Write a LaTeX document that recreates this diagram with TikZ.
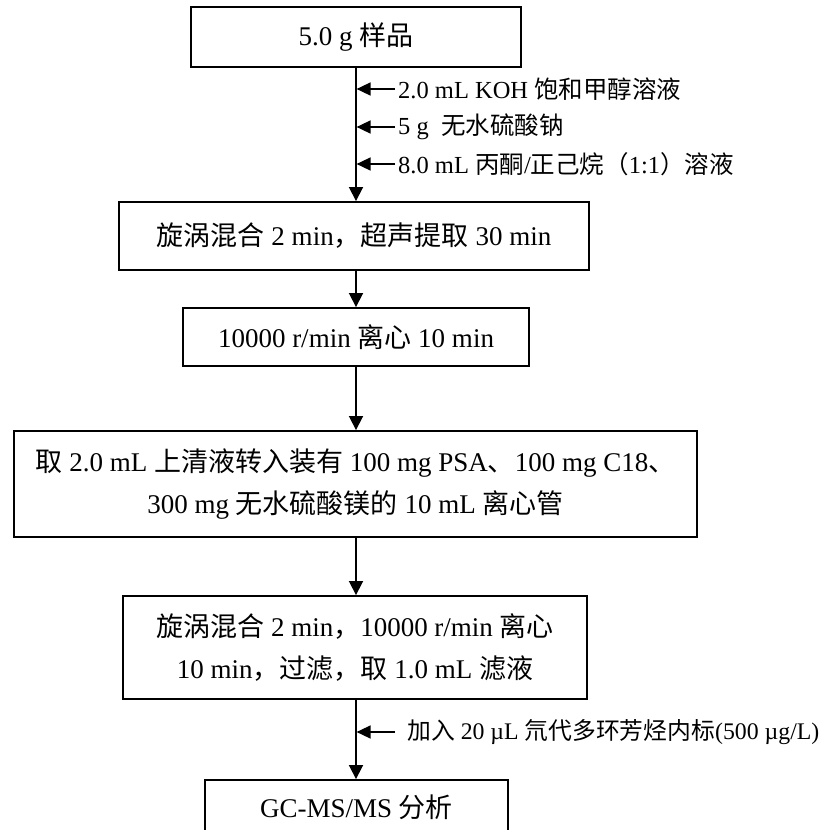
\documentclass[tikz,border=0pt]{standalone}
\usepackage{fontspec}
\setmainfont{Liberation Serif}
\newfontfamily\cjk{Noto Sans CJK SC}
\newcommand{\C}[1]{{\cjk #1}}
\usetikzlibrary{arrows.meta}
\begin{document}
\begin{tikzpicture}[x=1pt,y=-1pt,
  box/.style={draw, line width=1.9pt, inner sep=0pt, align=center,
    font=\fontsize{27}{42}\selectfont},
  sidelbl/.style={anchor=west, inner sep=0pt, font=\fontsize{24.5}{28}\selectfont},
  mainarr/.style={line width=1.8pt, -{Triangle[length=14pt,width=14pt]}},
  sidearr/.style={line width=1.6pt, -{Triangle[length=14pt,width=13pt]}, shorten >=0.6pt}]
\clip (0,0) rectangle (826,830);
\fill[white] (0,0) rectangle (826,830);

\node[box, minimum width=330pt, minimum height=60pt] (b1) at (356,37) {5.0 g \C{样品}};
\node[box, minimum width=470pt, minimum height=68pt] (b2) at (354,236) {\C{旋涡混合} 2 min\C{，超声提取} 30 min};
\node[box, minimum width=346pt, minimum height=58pt] (b3) at (356,337) {10000 r/min \C{离心} 10 min};
\node[box, minimum width=683pt, minimum height=106pt] (b4) at (355.5,484) {\C{取} 2.0 mL \C{上清液转入装有} 100 mg PSA\C{、}100 mg C18\C{、}\\300 mg \C{无水硫酸镁的} 10 mL \C{离心管}};
\node[box, minimum width=464pt, minimum height=103pt] (b5) at (355,647.5) {\C{旋涡混合} 2 min\C{，}10000 r/min \C{离心}\\10 min\C{，过滤，取} 1.0 mL \C{滤液}};
\node[box, minimum width=303pt, minimum height=54pt] (b6) at (356.5,807) {GC-MS/MS \C{分析}};

\node[sidelbl] (s1) at (398,89) {2.0 mL KOH \C{饱和甲醇溶液}};
\node[sidelbl] (s2) at (398,127) {5 g\ \ \C{无水硫酸钠}};
\node[sidelbl] (s3) at (398,164) {8.0 mL \C{丙酮}/\C{正己烷（}1:1\C{）溶液}};
\node[sidelbl, font=\fontsize{23.8}{28}\selectfont] (s4) at (407,732) {\C{加入} 20 µL \C{氘代多环芳烃内标}(500 µg/L)};

\draw[mainarr] (b1.south) -- (b1.south |- b2.north);
\draw[mainarr] (b1.south |- b2.south) -- (b3.north);
\draw[mainarr] (b3.south) -- (b3.south |- b4.north);
\draw[mainarr] (b3.south |- b4.south) -- (b3.south |- b5.north);
\draw[mainarr] (b3.south |- b5.south) -- (b3.south |- b6.north);

\draw[sidearr] ([xshift=-3pt]s1.west) -- (s1.west -| b1.south);
\draw[sidearr] ([xshift=-3pt]s2.west) -- (s2.west -| b1.south);
\draw[sidearr] ([xshift=-3pt]s3.west) -- (s3.west -| b1.south);
\draw[sidearr] ([xshift=-12pt]s4.west) -- (s4.west -| b1.south);
\end{tikzpicture}
\end{document}
